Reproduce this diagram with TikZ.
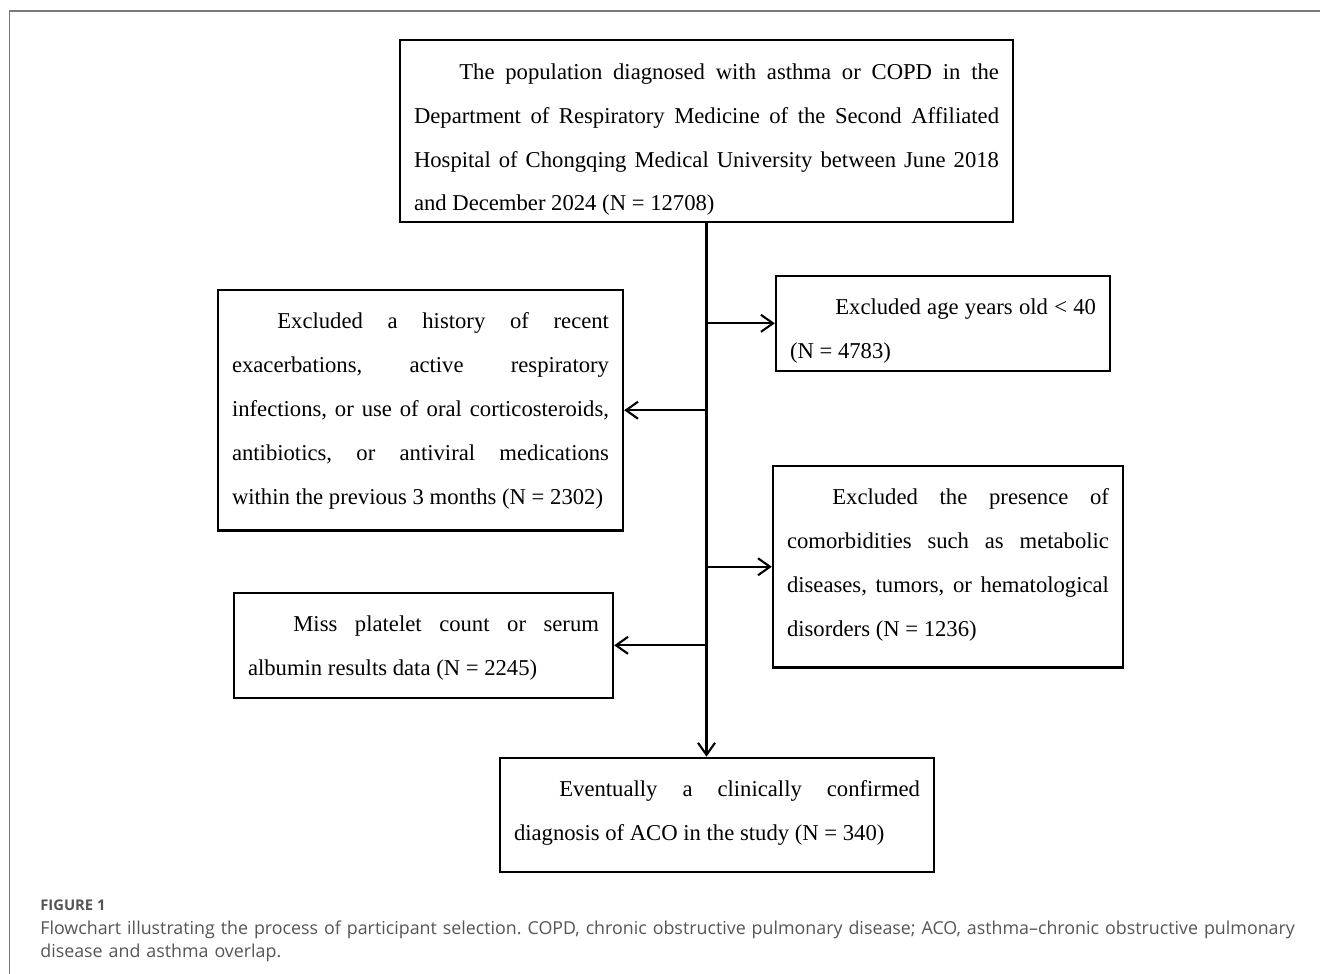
\documentclass[tikz,border=0pt]{standalone}
\usepackage{fontspec}
\setmainfont{Liberation Serif}
\newfontfamily\leyendafont{Open Sans}
\usetikzlibrary{arrows.meta}
\definecolor{marcogris}{HTML}{7A7A82}
\definecolor{textogris}{HTML}{555555}
\tikzstyle{caja}=[draw, line width=1.35pt, anchor=north, align=justify,
  inner xsep=0.28cm, inner ysep=0pt, font=\fontsize{12.9}{25}\selectfont]
\tikzstyle{line} = [draw, line width=1.2pt,
  -{Straight Barb[length=2.4mm,width=3.4mm]}]
\tikzstyle{leyenda}=[anchor=base west, inner sep=0pt, text=textogris]
\newcommand{\caja}[4]{node (#1) [caja, text width=#2]
  {\rule{0pt}{0.78cm}\hspace*{2em}#4\rule[-#3]{0pt}{0pt}}}
\frenchspacing
\begin{document}
\begin{tikzpicture}
  \useasboundingbox (0,0) rectangle (26.4,-19.48);
  % Marco de la figura
  \draw[marcogris, line width=0.6pt] (0.19,-19.48) -- (0.19,-0.22) -- (26.4,-0.22);

  % Cajas del diagrama
  \path (14.13,-0.78) \caja{p1}{11.70cm}{0.22cm}{The population diagnosed with asthma or COPD in the\linebreak
    Department of Respiratory Medicine of the Second Affiliated\linebreak
    Hospital of Chongqing Medical University between June 2018\linebreak
    and December 2024 (N = 12708)};
  \path (p1.south)+(4.73,-1.03) \caja{e1}{6.12cm}{0.24cm}{Excluded age years old < 40\linebreak
    (N = 4783)};
  \path (p1.south)+(-5.72,-1.31) \caja{e2}{7.54cm}{0.52cm}{Excluded a history of recent\linebreak
    exacerbations, active respiratory\linebreak
    infections, or use of oral corticosteroids,\linebreak
    antibiotics, or antiviral medications\linebreak
    within the previous 3 months (N = 2302)};
  \path (p1.south)+(4.83,-4.83) \caja{e3}{6.44cm}{0.62cm}{Excluded the presence of\linebreak
    comorbidities such as metabolic\linebreak
    diseases, tumors, or hematological\linebreak
    disorders (N = 1236)};
  \path (p1.south)+(-5.66,-7.37) \caja{e4}{7.02cm}{0.44cm}{Miss platelet count or serum\linebreak
    albumin results data (N = 2245)};
  \path (p1.south)+(0.21,-10.67) \caja{fin}{8.12cm}{0.62cm}{Eventually a clinically confirmed\linebreak
    diagnosis of ACO in the study (N = 340)};

  % Flechas
  \path [line] (p1.south) -- (p1.south |- fin.north);
  \path [line] (p1.south |- e1.west) -- (e1.west);
  \path [line] (p1.south |- e2.east) -- (e2.east);
  \path [line] (p1.south |- e3.west) -- (e3.west);
  \path [line] (p1.south |- e4.east) -- (e4.east);

  % Leyenda
  \path (0.80,-18.20) node (fig) [leyenda,
    font=\leyendafont\bfseries\fontsize{8.4}{10}\selectfont] {FIGURE 1};
  \path (fig.base west)+(0,-0.49) node (texto) [leyenda, text width=28cm, align=left,
    font=\leyendafont\fontsize{10.15}{13.3}\selectfont]
    {Flowchart illustrating the process of participant selection. COPD, chronic obstructive pulmonary disease; ACO, asthma–chronic obstructive pulmonary\\
    disease and asthma overlap.};
\end{tikzpicture}
\end{document}
